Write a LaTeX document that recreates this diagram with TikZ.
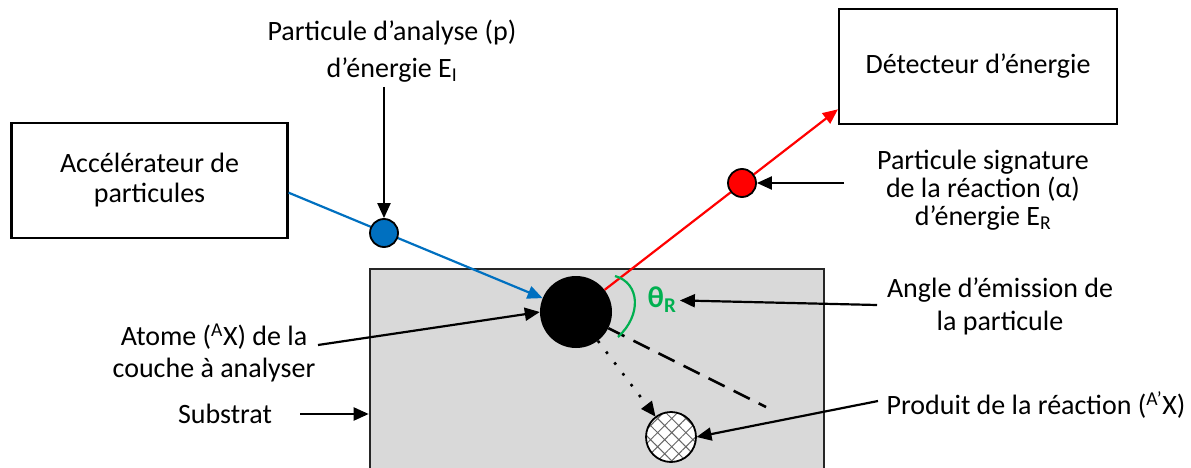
\documentclass[tikz,border=0pt]{standalone}
\usepackage{fontspec}
\setmainfont{Carlito}
\usetikzlibrary{arrows.meta,patterns.meta}
\definecolor{nrablue}{HTML}{0070C0}
\definecolor{nrared}{HTML}{FF0000}
\definecolor{nragreen}{HTML}{00B050}
\definecolor{nragray}{HTML}{D9D9D9}

\begin{document}
\begin{tikzpicture}[
    x=1pt,
    y=-1pt,
    font=\fontsize{28}{30}\selectfont,
    box/.style={rectangle, draw=black, line width=2.2pt, fill=white, align=center, minimum width=276pt, minimum height=115pt},
    particle/.style={circle, draw=black, line width=1.8pt, minimum size=28pt, inner sep=0pt},
    lbl/.style={align=center, inner sep=0pt},
    note/.style={-{Triangle[length=15pt,width=13pt]}, line width=2.2pt, draw=black},
    beam/.style={-{Triangle[length=15pt,width=13pt]}, line width=2.2pt}
  ]
    \useasboundingbox (0,0) rectangle (1191,468);

    % substrate and boxes
    \node[rectangle, draw=black!85, line width=2.6pt, fill=nragray, minimum width=454pt, minimum height=206pt] (sub) at (597,372) {};
    \node[box] (acc) at (149.5,180.5) {Accélérateur de\\particules};
    \node[box, minimum width=278pt] (det) at (978,66.5) {Détecteur d’énergie};

    \node[circle, fill=black, minimum size=72pt, inner sep=0pt] (atom) at (576,312) {};
    \node[particle, minimum size=50pt, pattern={Hatch[angle=45,distance=10pt,line width=1pt]}, pattern color=black!60, preaction={fill=white}] (prod) at (671,437) {};

    % beams
    \draw[beam, draw=nrablue, fill=nrablue] (acc.-5) -- (atom);
    \draw[beam, draw=nrared, fill=nrared] (atom) -- (det.197);
    \coordinate (dashend) at (766,407);
    \draw[line width=2.6pt, dash pattern=on 18pt off 10pt] (atom) -- (dashend);
    \draw[line width=2.6pt, dash pattern=on 2.6pt off 11pt, -{Triangle[length=15pt,width=13pt]}] (atom) -- (prod);

    \node[particle, fill=nrablue] (pin) at (384,233) {};
    \node[particle, fill=nrared] (pout) at (742,183) {};

    % emission angle
    \coordinate (arcin) at (615,276);
    \coordinate (arcout) at (618,337);
    \draw[nragreen, line width=2.2pt] (arcin) .. controls (640,283) and (642,315) .. (arcout);
    \node[text=nragreen, font=\fontsize{30}{30}\selectfont\bfseries] (theta) at (662,300) {θ\textsubscript{R}};

    % labels
    \node[lbl, font=\fontsize{28}{37}\selectfont] (labin) at (392,51) {Particule d’analyse (p)\\d’énergie E\textsubscript{I}};
    \node[lbl, font=\fontsize{28}{28}\selectfont] (labout) at (983,190) {Particule signature\\de la réaction (α)\\d’énergie E\textsubscript{R}};
    \node[lbl, font=\fontsize{28}{33}\selectfont] (labang) at (1000,306) {Angle d’émission de\\la particule};
    \node[lbl, font=\fontsize{28}{32}\selectfont] (labat) at (214,353) {Atome (\textsuperscript{A}X) de la\\couche à analyser};
    \node[lbl] (labsub) at (225,414) {Substrat};
    \node[lbl] (labprod) at (1036,405) {Produit de la réaction (\textsuperscript{A’}X)};

    % pointers
    \coordinate (infrom) at (384,87);
    \coordinate (outfrom) at (844,183);
    \coordinate (angfrom) at (877,305);
    \coordinate (atfrom) at (318,345);
    \coordinate (subfrom) at (300,414);
    \coordinate (prodfrom) at (878,401);
    \draw[note] (infrom) -- (pin);
    \draw[note] (outfrom) -- (pout);
    \draw[note] (angfrom) -- (theta);
    \draw[note] (atfrom) -- (atom.west);
    \draw[note] (subfrom) -- (subfrom -| sub.west);
    \draw[note] (prodfrom) -- (prod.east);
\end{tikzpicture}
\end{document}
